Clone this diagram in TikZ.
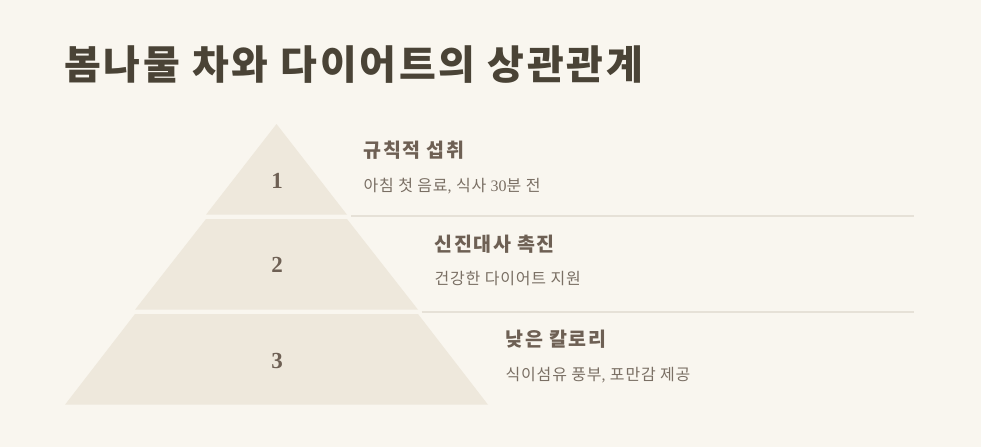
\documentclass[tikz,border=0pt]{standalone}
\usepackage{fontspec}
\setmainfont{Noto Sans CJK KR}
\newfontfamily\numfont{Liberation Serif}
\definecolor{bg}{HTML}{F9F6EF}
\definecolor{tier}{HTML}{EEE8DC}
\definecolor{sep}{HTML}{E6E1D7}
\definecolor{titlec}{HTML}{4A4336}
\definecolor{headc}{HTML}{6E6054}
\definecolor{subc}{HTML}{7A6F64}
\definecolor{numc}{HTML}{6E6054}
\begin{document}
\begin{tikzpicture}[x=1pt,y=-1pt,
  tierfill/.style={fill=tier},
  sepline/.style={draw=sep,line width=2pt},
  numlabel/.style={inner sep=0pt,text=numc,font=\numfont\fontsize{23}{23}\selectfont\bfseries},
  headlabel/.style={anchor=west,inner sep=0pt,text=headc,font=\fontsize{19.5}{20}\selectfont\bfseries\addfontfeature{LetterSpace=8}},
  sublabel/.style={anchor=west,inner sep=0pt,text=subc,font=\fontsize{16}{16}\selectfont\addfontfeature{LetterSpace=5}}]
\fill[bg] (0,0) rectangle (981,447);
\useasboundingbox (0,0) rectangle (981,447);
% title
\node[anchor=west,inner sep=0pt,text=titlec,font=\fontsize{40}{40}\selectfont\bfseries\addfontfeature{LetterSpace=7}] (title) at (64,65) {봄나물 차와 다이어트의 상관관계};
% tiers
\fill[tierfill] (276.5,124) -- (347,214.7) -- (206,214.7) -- cycle;
\fill[tierfill] (206,219) -- (347,219) -- (418,309.7) -- (135,309.7) -- cycle;
\fill[tierfill] (135,314) -- (418,314) -- (488,404.7) -- (65,404.7) -- cycle;
% separators
\coordinate (s1a) at (351,216.3);
\coordinate (s1b) at (913.5,216.3);
\coordinate (s2a) at (421.5,311.7);
\coordinate (s2b) at (913.5,311.7);
\draw[sepline] (s1a) -- (s1b);
\draw[sepline] (s2a) -- (s2b);
% numbers
\node[numlabel] (n1) at (277,181) {1};
\node[numlabel] (n2) at (277,265) {2};
\node[numlabel] (n3) at (277,361) {3};
% texts
\node[headlabel] (h1) at (363.5,150) {규칙적 섭취};
\node[sublabel] (d1) at (363.5,186) {아침 첫 음료{\numfont,} 식사 {\numfont 30}분 전};
\node[headlabel] (h2) at (434.5,244) {신진대사 촉진};
\node[sublabel] (d2) at (434.5,279) {건강한 다이어트 지원};
\node[headlabel] (h3) at (505.5,339) {낮은 칼로리};
\node[sublabel] (d3) at (505.5,375) {식이섬유 풍부{\numfont,} 포만감 제공};
\end{tikzpicture}
\end{document}
